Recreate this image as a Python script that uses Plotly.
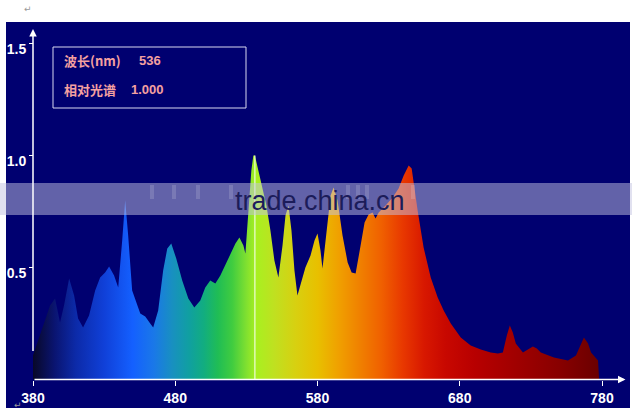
import plotly.graph_objects as go

# ---------------- data ----------------
wavelength = [380, 384.9, 389.2, 392, 395.5, 399, 401.8, 405.4, 408.9, 411.7, 415.2, 419.4, 423.7,
              427.2, 430.7, 433.5, 437.0, 439.9, 442.7, 444.8, 446.9, 449.7, 455.4, 458.9, 462.4,
              464.5, 468.0, 471.5, 474.4, 477.2, 480.7, 484.9, 489.2, 493.4, 497.6, 501.1, 504.6,
              508.2, 511.7, 517.3, 522.3, 525.1, 527.9, 529.3, 531.4, 533.5, 534.9, 536, 537.6,
              540.6, 544.1, 546.9, 549.7, 552.5, 555.4, 557.5, 559.6, 561.7, 563.8, 565.9, 568.7,
              571.5, 575.1, 577.9, 580, 582.1, 583.5, 586.3, 589.2, 591.3, 594.1, 597.6, 601.2,
              604, 606.8, 610.3, 613.1, 615.9, 618.7, 620.8, 623, 627.9, 632.8, 637, 640.6, 644.1,
              646.2, 650.4, 654.6, 659.6, 664.5, 668.7, 673.7, 680.7, 687.7, 694.8, 701.8, 706.8,
              710.3, 713.1, 715.2, 717.3, 719.4, 724.4, 727.9, 731.4, 734.2, 737, 746.2, 756.1,
              761.7, 764.6, 767.3, 770.2, 772.3, 777.2, 778]
relative = [0.107, 0.196, 0.272, 0.33, 0.362, 0.254, 0.33, 0.451, 0.375, 0.272, 0.232, 0.286, 0.397,
            0.455, 0.478, 0.504, 0.464, 0.411, 0.62, 0.80, 0.643, 0.397, 0.295, 0.281, 0.25,
            0.232, 0.308, 0.487, 0.585, 0.607, 0.54, 0.442, 0.362, 0.321, 0.353, 0.411, 0.442,
            0.429, 0.464, 0.54, 0.607, 0.634, 0.598, 0.5625, 0.732, 0.933, 1.0, 1.0, 0.955,
            0.866, 0.777, 0.665, 0.531, 0.455, 0.598, 0.732, 0.777, 0.665, 0.487, 0.375, 0.442,
            0.5, 0.554, 0.62, 0.652, 0.576, 0.496, 0.665, 0.821, 0.857, 0.799, 0.643, 0.522,
            0.478, 0.473, 0.598, 0.701, 0.737, 0.746, 0.719, 0.746, 0.777, 0.8125, 0.853, 0.911, 0.955,
            0.942, 0.754, 0.589, 0.455, 0.366, 0.308, 0.25, 0.1875, 0.152, 0.134, 0.12, 0.116,
            0.12, 0.196, 0.241, 0.21, 0.161, 0.12, 0.134, 0.147, 0.138, 0.12, 0.098, 0.085,
            0.107, 0.152, 0.1875, 0.161, 0.12, 0.085, 0.0]

x_ticks = [380, 480, 580, 680, 780]
y_ticks = [0.5, 1.0, 1.5]
marker_wavelength = 536
marker_value = 1.000
label_wavelength = "波长(nm)"
label_relative = "相对光谱"

# wavelength -> colour stops of the spectral fill
color_wl = [380, 395, 410, 430, 450, 465, 478, 490, 500, 510, 520, 530, 537, 550, 565, 580,
            595, 610, 625, 640, 655, 670, 690, 720, 750, 780]
color_hex = ["#080828", "#0a1470", "#0c2aa8", "#1040d8", "#1460ff", "#1a78e8", "#1890c0",
             "#10a0a0", "#12ad80", "#20bd55", "#40cc40", "#80e030", "#a8f020", "#c0e020",
             "#d8d010", "#e8c000", "#f0a000", "#f08000", "#f06000", "#e83800", "#d81800",
             "#c80800", "#b80000", "#a00000", "#880000", "#680000"]

# ---------------- layout helpers ----------------
W, H = 639, 419
PX0, PX1, PY0, PY1 = 6, 630, 22, 408          # navy plot area in pixels
def xp(px):
    return (px - PX0) / (PX1 - PX0)
def yp(py):
    return (PY1 - py) / (PY1 - PY0)

XPX_PER = 569 / 400.0
X0_PX = 33
Y0_PX = 379.5
YPX_PER = 224.0
x_range = [380 + (PX0 - X0_PX) / XPX_PER, 380 + (PX1 - X0_PX) / XPX_PER]
y_range = [(Y0_PX - PY1) / YPX_PER, (Y0_PX - PY0) / YPX_PER]

lo, hi = color_wl[0], color_wl[-1]
colorscale = [[(w - lo) / (hi - lo), c] for w, c in zip(color_wl, color_hex)]

fig = go.Figure()
fig.add_trace(go.Scatter(
    x=wavelength, y=relative, mode="lines", fill="tozeroy",
    line=dict(width=0, color="rgba(0,0,0,0)"),
    fillgradient=dict(type="horizontal", colorscale=colorscale, start=lo, stop=hi),
    hoverinfo="skip", showlegend=False,
))

navy = "#000070"
tick_font = dict(family="Liberation Sans", size=14, color="white", weight="bold")

fig.update_layout(
    width=W, height=H,
    margin=dict(l=PX0, r=W - PX1, t=PY0, b=H - PY1, pad=0, autoexpand=False),
    paper_bgcolor="white", plot_bgcolor=navy,
    showlegend=False,
    xaxis=dict(range=x_range, tickvals=x_ticks, ticktext=[str(t) for t in x_ticks],
               showgrid=False, zeroline=False, showline=False, automargin=False,
               ticks="outside", ticklen=5, tickcolor="white", tickwidth=1,
               anchor="free", position=yp(Y0_PX), tickfont=tick_font, ticklabelstandoff=1),
    yaxis=dict(range=y_range, tickvals=y_ticks, ticktext=["0.5", "1.0", "1.5"],
               showgrid=False, zeroline=False, showline=False, automargin=False,
               ticks="outside", ticklen=4, tickcolor="white", tickwidth=1,
               anchor="free", position=xp(X0_PX), tickfont=tick_font,
               ticklabelshift=6, ticklabelstandoff=0),
)

shapes = []
# marker line
shapes.append(dict(type="line", xref="x", yref="y", x0=marker_wavelength, x1=marker_wavelength,
                   y0=0, y1=marker_value, line=dict(color="white", width=1), layer="above"))
# info box
shapes.append(dict(type="rect", xref="paper", yref="paper", x0=xp(53), x1=xp(246), y0=yp(108), y1=yp(47),
                   line=dict(color="#d8d8f0", width=1), fillcolor="rgba(0,0,0,0)"))
# watermark band
shapes.append(dict(type="rect", xref="paper", yref="paper", x0=xp(0), x1=xp(632), y0=yp(215), y1=yp(183),
                   line=dict(width=0), fillcolor="rgba(195,195,225,0.5)", layer="above"))
# whitish smudges on the band
for cx in [152, 174, 198, 231, 348, 358, 367, 413]:
    shapes.append(dict(type="rect", xref="paper", yref="paper", x0=xp(cx - 2), x1=xp(cx + 2),
                       y0=yp(199), y1=yp(185), line=dict(width=0),
                       fillcolor="rgba(255,255,255,0.15)", layer="above"))
fig.update_layout(shapes=shapes)

ann = []
# axis arrows
ann.append(dict(x=796.5, y=0, ax=380, ay=0, xref="x", yref="y", axref="x", ayref="y",
                text="", showarrow=True, arrowhead=2, arrowsize=1, arrowwidth=1.5, arrowcolor="white"))
ann.append(dict(x=380, y=1.565, ax=380, ay=0.12, xref="x", yref="y", axref="x", ayref="y",
                text="", showarrow=True, arrowhead=2, arrowsize=1, arrowwidth=1.5, arrowcolor="white"))
salmon = "#f4a0a0"
box_font = dict(family="Noto Sans CJK SC", size=13, color=salmon, weight="bold")
num_font = dict(family="Liberation Sans", size=13, color=salmon, weight="bold")
ann.append(dict(x=xp(62), y=yp(60), xref="paper", yref="paper", text=label_wavelength,
                showarrow=False, xanchor="left", yanchor="middle", font=box_font))
ann.append(dict(x=xp(137), y=yp(60), xref="paper", yref="paper", text=str(marker_wavelength),
                showarrow=False, xanchor="left", yanchor="middle", font=num_font))
ann.append(dict(x=xp(62), y=yp(90), xref="paper", yref="paper", text=label_relative,
                showarrow=False, xanchor="left", yanchor="middle", font=box_font))
ann.append(dict(x=xp(129), y=yp(90), xref="paper", yref="paper", text=f"{marker_value:.3f}",
                showarrow=False, xanchor="left", yanchor="middle", font=num_font))
# watermark text
ann.append(dict(x=xp(320), y=yp(201), xref="paper", yref="paper", text="trade.china.cn",
                showarrow=False, xanchor="center", yanchor="middle",
                font=dict(family="Liberation Sans", size=27, color="#1c1c5a")))
# stray return marks
ann.append(dict(x=xp(22), y=yp(2), xref="paper", yref="paper", text="↵", showarrow=False,
                font=dict(family="DejaVu Sans", size=9, color="#999999")))
ann.append(dict(x=xp(12), y=yp(412), xref="paper", yref="paper", text="↵", showarrow=False,
                font=dict(family="DejaVu Sans", size=9, color="#999999")))
fig.update_layout(annotations=ann)

fig.write_html("out.html", config={"displayModeBar": False},
               post_script="document.body.style.margin='0px';")
